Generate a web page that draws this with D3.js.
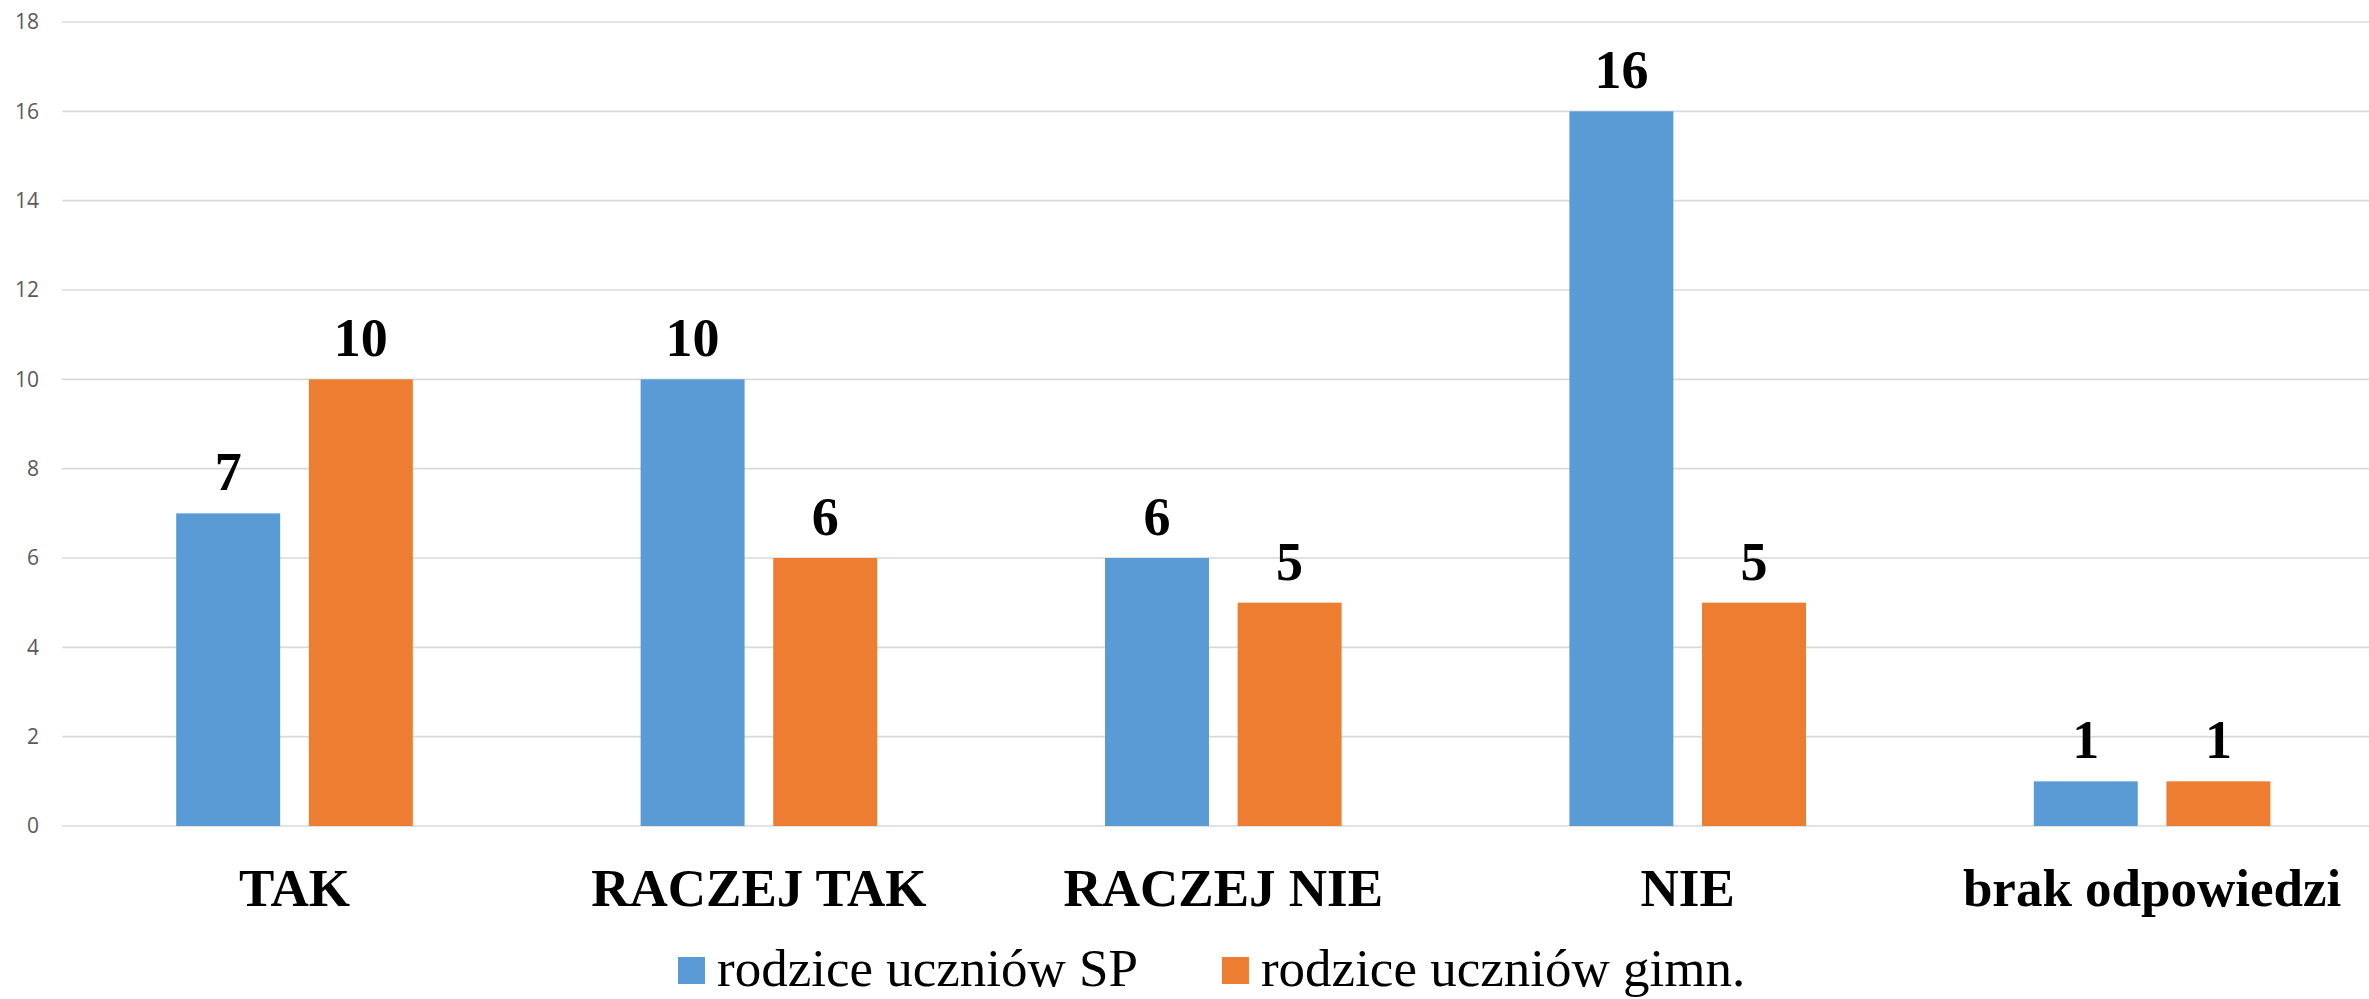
<!DOCTYPE html>
<html>
<head>
<meta charset="utf-8">
<title>Wykres</title>
<script src="https://d3js.org/d3.v7.min.js"></script>
<style>
  html, body { margin: 0; padding: 0; background: #fff; }
  svg { display: block; }
</style>
</head>
<body>
<svg id="chart" width="2369" height="999"></svg>
<script>
// categories and series
const categories = ["TAK", "RACZEJ TAK", "RACZEJ NIE", "NIE", "brak odpowiedzi"];
const seriesNames = ["rodzice uczniów SP", "rodzice uczniów gimn."];
const valuesSP = [7, 10, 6, 16, 1];
const valuesGimn = [10, 6, 5, 5, 1];
const yTicks = [0, 2, 4, 6, 8, 10, 12, 14, 16, 18];
const colors = ["#5B9BD5", "#ED7D31"];

const width = 2369;
const height = 999;

// plot area (right edge runs a bit past the picture, as in the reference)
const plot = { left: 62.3, right: 2384.3, top: 22, bottom: 826 };

const svg = d3.select("#chart");

const x = d3.scaleBand()
  .domain(categories)
  .range([plot.left, plot.right])
  .padding(0);

// two bars per group, centred in the category band
const groupWidth = 236.6;
const xInner = d3.scaleBand()
  .domain([0, 1])
  .range([-groupWidth / 2, groupWidth / 2])
  .paddingInner(0.216);

const y = d3.scaleLinear()
  .domain([0, 18])
  .range([plot.bottom, plot.top]);

// horizontal gridlines
svg.append("g")
  .selectAll("line")
  .data(yTicks)
  .join("line")
  .attr("x1", plot.left)
  .attr("x2", plot.right)
  .attr("y1", d => y(d))
  .attr("y2", d => y(d))
  .attr("stroke", "#D9D9D9")
  .attr("stroke-width", 1.6);

// y axis labels
const yAxis = d3.axisLeft(y).tickValues(yTicks).tickSize(0).tickPadding(0);
const yg = svg.append("g")
  .attr("transform", `translate(39,0)`)
  .call(yAxis);
yg.select(".domain").remove();
yg.selectAll("text")
  .attr("font-family", "'Open Sans', sans-serif")
  .attr("font-size", 21)
  .attr("fill", "#595959");

// bars
const series = [valuesSP, valuesGimn];
const barData = [];
categories.forEach((c, i) => {
  series.forEach((vals, s) => {
    barData.push({ cat: c, s: s, value: vals[i] });
  });
});

const cx = d => x(d.cat) + x.bandwidth() / 2 + xInner(d.s);

svg.append("g")
  .selectAll("rect")
  .data(barData)
  .join("rect")
  .attr("x", d => cx(d))
  .attr("y", d => y(d.value))
  .attr("width", xInner.bandwidth())
  .attr("height", d => y(0) - y(d.value))
  .attr("fill", d => colors[d.s]);

// value labels
svg.append("g")
  .selectAll("text")
  .data(barData)
  .join("text")
  .attr("x", d => cx(d) + xInner.bandwidth() / 2)
  .attr("y", d => y(d.value) - 23)
  .attr("text-anchor", "middle")
  .attr("font-family", "'Liberation Serif', 'Times New Roman', serif")
  .attr("font-weight", "bold")
  .attr("font-size", 54)
  .attr("fill", "#000")
  .text(d => d.value);

// category labels
svg.append("g")
  .selectAll("text")
  .data(categories)
  .join("text")
  .attr("x", d => x(d) + x.bandwidth() / 2)
  .attr("y", 906)
  .attr("text-anchor", "middle")
  .attr("font-family", "'Liberation Serif', 'Times New Roman', serif")
  .attr("font-weight", "bold")
  .attr("font-size", 53)
  .attr("fill", "#000")
  .text(d => d);

// legend
const legend = svg.append("g");
const items = legend.selectAll("g")
  .data(seriesNames)
  .join("g");
items.append("rect")
  .attr("width", 27)
  .attr("height", 27)
  .attr("y", 957)
  .attr("fill", (d, i) => colors[i]);
items.append("text")
  .attr("x", 39)
  .attr("y", 986)
  .attr("font-family", "'Liberation Serif', 'Times New Roman', serif")
  .attr("font-size", 53)
  .attr("fill", "#000")
  .text(d => d);

// lay legend items side by side, starting where the reference does
let offset = 0;
const gap = 84;
const offsets = [];
items.each(function () {
  offsets.push(offset);
  offset += this.getBBox().width + gap;
});
const startX = 678;
items.attr("transform", (d, i) => `translate(${startX + offsets[i]},0)`);
</script>
</body>
</html>
